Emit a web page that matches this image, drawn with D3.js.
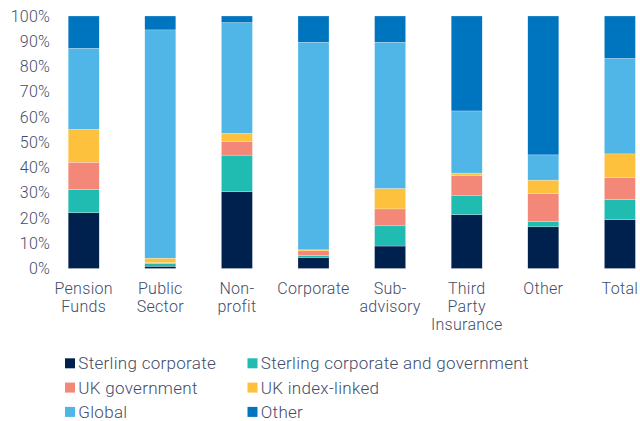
<!DOCTYPE html>
<html><head><meta charset="utf-8">
<script src="https://cdn.jsdelivr.net/npm/d3@7"></script>
<style>
html,body{margin:0;padding:0;background:#fff;}
svg{display:block;font-family:Roboto, "Open Sans", sans-serif;}
</style></head>
<body>
<svg id="chart" width="640" height="421"></svg>
<script>
// ---- data ----
const categories = ["Pension Funds","Public Sector","Non-profit","Corporate","Sub-advisory","Third Party Insurance","Other","Total"];
const categoryLines = [["Pension","Funds"],["Public","Sector"],["Non-","profit"],["Corporate"],["Sub-","advisory"],["Third","Party","Insurance"],["Other"],["Total"]];
const seriesNames = ["Sterling corporate","Sterling corporate and government","UK government","UK index-linked","Global","Other"];
const sterlingCorporate      = [22.1, 0.9, 30.4, 4.4, 8.9, 21.3, 16.5, 19.3];
const sterlingCorpAndGov     = [ 9.2, 1.1, 14.5, 0.8, 8.0,  7.5,  2.0,  8.0];
const ukGovernment           = [10.8, 0.3,  5.3, 1.8, 6.7,  8.1, 11.1,  8.8];
const ukIndexLinked          = [13.0, 1.8,  3.3, 0.4, 8.1,  0.9,  5.4,  9.3];
const global                 = [32.1,90.4, 43.9,82.2,57.9, 24.6, 10.0, 37.8];
const other                  = [12.8, 5.5,  2.6,10.4,10.4, 37.6, 55.0, 16.8];
const yTicks = [0,10,20,30,40,50,60,70,80,90,100];
const colors = ["#00204e","#21bcb1","#f38878","#fec13e","#4fb6e7","#0075bf"];

const seriesValues = [sterlingCorporate, sterlingCorpAndGov, ukGovernment, ukIndexLinked, global, other];
const table = categories.map((c,i)=>{
  const row = {category:c};
  seriesNames.forEach((s,j)=>row[s]=seriesValues[j][i]);
  return row;
});

const svg = d3.select("#chart");
const textColor = "#3f4d6c";

const x = d3.scaleBand().domain(categories).range([45.4, 658.2]).paddingInner(0.595).paddingOuter(0.2975);
const y = d3.scaleLinear().domain([0,100]).range([268.5, 16]);

const stack = d3.stack().keys(seriesNames).offset(d3.stackOffsetExpand);
const stacked = stack(table);

svg.append("g").selectAll("g").data(stacked).join("g")
  .attr("fill",(d,i)=>colors[i])
  .selectAll("rect").data(d=>d).join("rect")
  .attr("x",d=>x(d.data.category))
  .attr("width",x.bandwidth())
  .attr("y",d=>y(d[1]*100))
  .attr("height",d=>Math.max(0,y(d[0]*100)-y(d[1]*100)))
  .attr("stroke","#ffffff").attr("stroke-width",0.4).attr("stroke-opacity",0.6);

// y axis
const yAxis = svg.append("g").attr("transform","translate(50,0)")
  .call(d3.axisLeft(y).tickValues(yTicks).tickFormat(d=>d+"%").tickSize(0).tickPadding(0));
yAxis.select(".domain").remove();
yAxis.selectAll("text").attr("fill",textColor).attr("font-size",16).attr("font-family","Roboto, sans-serif")
  .attr("font-weight",300).attr("letter-spacing",0.2);

// x labels
const xl = svg.append("g");
categories.forEach((c,i)=>{
  const t = xl.append("text").attr("x",x(c)+x.bandwidth()/2).attr("y",294)
    .attr("text-anchor","middle").attr("fill",textColor).attr("font-size",16)
    .attr("font-weight",300).attr("letter-spacing",0.3);
  categoryLines[i].forEach((ln,k)=>{
    t.append("tspan").attr("x",x(c)+x.bandwidth()/2).attr("dy",k===0?0:18.2).text(ln);
  });
});

// legend
const legend = svg.append("g");
seriesNames.forEach((s,i)=>{
  const col = i%2, row = Math.floor(i/2);
  const lx = col===0 ? 65 : 247.5;
  const ly = 363.3 + row*24.3;
  legend.append("rect").attr("x",lx).attr("y",ly-5).attr("width",10).attr("height",10).attr("fill",colors[i]);
  legend.append("text").attr("x",lx+13.3).attr("y",ly).attr("dy","0.36em")
    .attr("fill",textColor).attr("font-size",17).attr("font-weight",300).attr("letter-spacing",0.3).text(s);
});
</script>
</body></html>
